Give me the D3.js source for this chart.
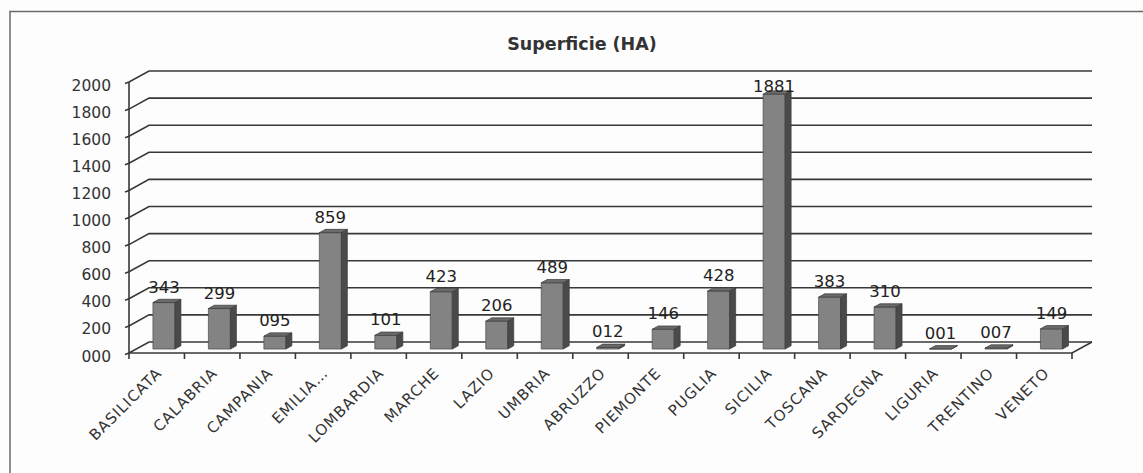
<!DOCTYPE html>
<html>
<head>
<meta charset="utf-8">
<script src="https://cdn.jsdelivr.net/npm/d3@7"></script>
<style>
  html, body { margin: 0; padding: 0; background: #fdfdfd; }
  svg { display: block; }
</style>
</head>
<body>
<svg id="chart" width="1143" height="473"></svg>
<script>
// Regions and surface in hectares
const categories = ["BASILICATA", "CALABRIA", "CAMPANIA", "EMILIA…", "LOMBARDIA", "MARCHE",
  "LAZIO", "UMBRIA", "ABRUZZO", "PIEMONTE", "PUGLIA", "SICILIA", "TOSCANA", "SARDEGNA",
  "LIGURIA", "TRENTINO", "VENETO"];
const superficie = [343, 299, 95, 859, 101, 423, 206, 489, 12, 146, 428, 1881, 383, 310, 1, 7, 149];
const yTicks = [0, 200, 400, 600, 800, 1000, 1200, 1400, 1600, 1800, 2000];
const titleText = "Superficie (HA)";

const svg = d3.select("#chart");
const fmt = d3.format("03d");

// Front plane of the 3D box
const x = d3.scaleBand().domain(categories).range([129, 1072]);
const y = d3.scaleLinear().domain([0, 2000]).range([353, 82]);
// Offset from front plane to back wall
const DX = 20, DY = -11;
// Bars sit partway into the depth
const barF = 0.36, barD = 0.3, barW = 22;

const lineCol = "#383838";

// Outer frame
svg.append("path")
  .attr("d", "M10,473 L10,11.5 L1143,11.5")
  .attr("fill", "none").attr("stroke", "#6a6a6a").attr("stroke-width", 1.5);

// Title
svg.append("text")
  .attr("x", 582).attr("y", 50)
  .attr("text-anchor", "middle")
  .attr("font-family", "DejaVu Sans, sans-serif")
  .attr("font-weight", "bold")
  .attr("font-size", 17.5)
  .attr("fill", "#333")
  .text(titleText);

const x0 = x.range()[0], x1 = x.range()[1];

// Back-wall gridlines with the connecting diagonals on the left side wall
const grid = svg.append("g");
yTicks.forEach(v => {
  const yy = y(v);
  grid.append("path")
    .attr("d", `M${x0 - 4},${yy + 1.5} L${x0},${yy} L${x0 + DX},${yy + DY} L${x1 + DX},${yy + DY}`)
    .attr("fill", "none").attr("stroke", lineCol).attr("stroke-width", 1.6);
});

// Floor: front edge and right diagonal
svg.append("path")
  .attr("d", `M${x0},${y(0)} L${x1},${y(0)} L${x1 + DX},${y(0) + DY}`)
  .attr("fill", "none").attr("stroke", lineCol).attr("stroke-width", 1.6);

// Vertical value axis
svg.append("line")
  .attr("x1", x0).attr("x2", x0).attr("y1", y(2000)).attr("y2", y(0))
  .attr("stroke", lineCol).attr("stroke-width", 1.6);

// Value tick labels
svg.append("g").selectAll("text").data(yTicks).join("text")
  .attr("x", 111).attr("y", d => y(d) + 8.5)
  .attr("text-anchor", "end")
  .attr("font-family", "DejaVu Sans, sans-serif")
  .attr("font-size", 15.5)
  .attr("fill", "#333")
  .text(d => fmt(d));

// Category ticks along the floor front edge
const bounds = categories.map(c => x(c)).concat([x1]);
svg.append("g").selectAll("line").data(bounds).join("line")
  .attr("x1", d => d).attr("x2", d => d)
  .attr("y1", y(0)).attr("y2", y(0) + 6)
  .attr("stroke", lineCol).attr("stroke-width", 1.6);

// Category labels
svg.append("g").selectAll("text").data(categories).join("text")
  .attr("transform", d => `translate(${x(d) + x.bandwidth() / 2 + 6},${374}) rotate(-45)`)
  .attr("text-anchor", "end")
  .attr("font-family", "DejaVu Sans, sans-serif")
  .attr("font-size", 15)
  .attr("letter-spacing", 1)
  .attr("fill", "#333")
  .text(d => d);

// 3D bars
const ox = DX * barF, oy = DY * barF;      // front face offset into depth
const dx = DX * barD, dy = DY * barD;      // bar depth
const bars = svg.append("g");
categories.forEach((c, i) => {
  const v = superficie[i];
  const cx = x(c) + x.bandwidth() / 2 + ox;
  const l = cx - barW / 2, r = cx + barW / 2;
  const b = y(0) + oy, t = y(v) + oy;
  // front face
  bars.append("path")
    .attr("d", `M${l},${b} L${r},${b} L${r},${t} L${l},${t}Z`)
    .attr("fill", "#838383").attr("stroke", "#4a4a4a").attr("stroke-width", 0.7);
  // side face
  bars.append("path")
    .attr("d", `M${r},${b} L${r + dx},${b + dy} L${r + dx},${t + dy} L${r},${t}Z`)
    .attr("fill", "#4a4a4a").attr("stroke", "#3a3a3a").attr("stroke-width", 0.7);
  // top face
  bars.append("path")
    .attr("d", `M${l},${t} L${r},${t} L${r + dx},${t + dy} L${l + dx},${t + dy}Z`)
    .attr("fill", "#6a6a6a").attr("stroke", "#3a3a3a").attr("stroke-width", 0.7);
});

// Value labels above the bars, kept below the top of the wall
const wallTop = y(2000) + DY;
svg.append("g").selectAll("text").data(categories).join("text")
  .attr("x", d => x(d) + x.bandwidth() / 2 + ox)
  .attr("y", (d, i) => Math.max(y(superficie[i]) + oy - 10, wallTop + 21))
  .attr("text-anchor", "middle")
  .attr("font-family", "DejaVu Sans, sans-serif")
  .attr("font-size", 16.5)
  .attr("fill", "#222")
  .text((d, i) => fmt(superficie[i]));
</script>
</body>
</html>
